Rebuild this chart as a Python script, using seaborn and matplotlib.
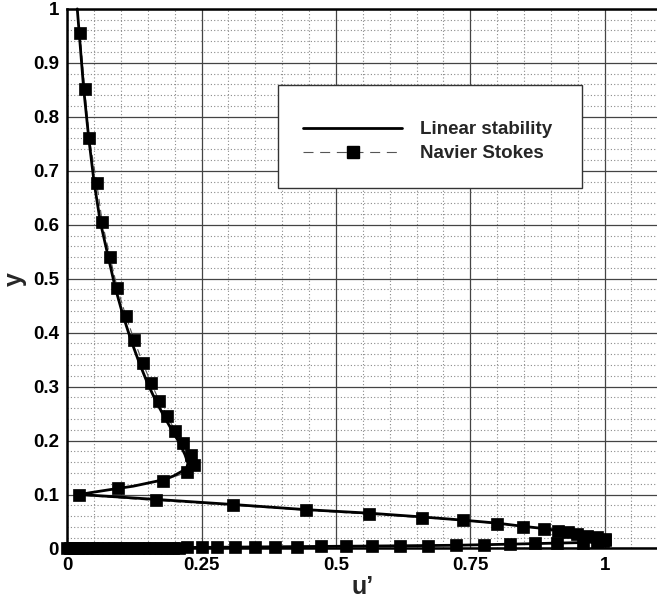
import numpy as np
import pandas as pd
import matplotlib
matplotlib.use("Agg")
import matplotlib.pyplot as plt
from matplotlib.ticker import MultipleLocator, FixedLocator
from matplotlib.patches import Rectangle
from matplotlib.lines import Line2D
import seaborn as sns

# ---- data ----
ls_u = [0.0186, 0.0223, 0.0305, 0.040, 0.050, 0.0615, 0.0763, 0.0894, 0.104, 0.1186,
        0.134, 0.149, 0.1645, 0.180, 0.1955, 0.2085, 0.219, 0.2245, 0.222, 0.2097,
        0.197, 0.1725, 0.123, 0.079, 0.042, 0.024,
        0.1645, 0.309, 0.444, 0.5615, 0.660, 0.737, 0.800, 0.849, 0.887, 0.930,
        0.970, 1.000, 0.995, 0.960, 0.911, 0.824, 0.7235, 0.619, 0.518, 0.427,
        0.349, 0.279, 0.222, 0.160, 0.100, 0.045, 0.0]
ls_y = [1.000, 0.954, 0.852, 0.760, 0.678, 0.605, 0.540, 0.483, 0.431, 0.386,
        0.344, 0.307, 0.274, 0.245, 0.218, 0.196, 0.174, 0.158, 0.148, 0.141,
        0.134, 0.126, 0.1155, 0.109, 0.1033, 0.100,
        0.091, 0.0815, 0.072, 0.0655, 0.0585, 0.0525, 0.047, 0.041, 0.037, 0.031,
        0.024, 0.016, 0.0125, 0.011, 0.0100, 0.0080, 0.0060, 0.0050, 0.0042, 0.0035,
        0.0029, 0.0023, 0.0019, 0.0013, 0.0009, 0.0005, 0.0]

ns_u = [0.0236, 0.0324, 0.041, 0.0547, 0.065, 0.0796, 0.093, 0.109, 0.1247, 0.1403,
        0.1558, 0.171, 0.186, 0.201, 0.216, 0.2297, 0.2358, 0.2222, 0.1787, 0.095,
        0.0223,
        0.1645, 0.309, 0.444, 0.5615, 0.6596, 0.737, 0.800, 0.8487, 0.887, 0.914,
        0.9325, 0.948, 0.9667, 0.985, 1.000, 1.000, 0.997, 0.985, 0.960,
        0.911, 0.870, 0.824, 0.7755, 0.7235, 0.671, 0.619, 0.568, 0.518, 0.472,
        0.427, 0.387, 0.349, 0.312, 0.279, 0.250, 0.222, 0.208, 0.197, 0.186,
        0.175, 0.164, 0.153, 0.142, 0.131, 0.120, 0.109, 0.098, 0.087, 0.076,
        0.066, 0.056, 0.046, 0.037, 0.028, 0.020, 0.012, 0.005, 0.0]
ns_y = [0.9546, 0.852, 0.760, 0.678, 0.605, 0.540, 0.483, 0.431, 0.386, 0.344,
        0.307, 0.274, 0.245, 0.218, 0.196, 0.174, 0.155, 0.141, 0.126, 0.112,
        0.099,
        0.089, 0.080, 0.071, 0.0635, 0.0572, 0.052, 0.046, 0.040, 0.037, 0.033,
        0.030, 0.027, 0.024, 0.021, 0.0185, 0.016, 0.0135, 0.012, 0.011,
        0.0100, 0.0093, 0.0080, 0.0067, 0.0060, 0.0055, 0.0050, 0.0046, 0.0042, 0.0038,
        0.0035, 0.0032, 0.0029, 0.0026, 0.0023, 0.0021, 0.0019, 0.0018, 0.0017, 0.0016,
        0.0015, 0.0014, 0.0013, 0.0012, 0.0011, 0.0010, 0.0009, 0.0008, 0.0007, 0.0006,
        0.0005, 0.0005, 0.0004, 0.0003, 0.0002, 0.0002, 0.0001, 0.0001, 0.0]

x_ticks = [0, 0.25, 0.5, 0.75, 1.0]
x_ticklabels = ["0", "0.25", "0.5", "0.75", "1"]
y_ticks = [0, 0.1, 0.2, 0.3, 0.4, 0.5, 0.6, 0.7, 0.8, 0.9, 1.0]
y_ticklabels = ["0", "0.1", "0.2", "0.3", "0.4", "0.5", "0.6", "0.7", "0.8", "0.9", "1"]
series_names = ["Linear stability", "Navier Stokes"]
x_label = "u\u2019"
y_label = "y"

# ---- styling ----
sns.set_theme(style="white")
plt.rcParams["font.family"] = ["Liberation Sans", "DejaVu Sans"]
plt.rcParams["font.weight"] = "bold"

fig = plt.figure(figsize=(6.57, 6.05), dpi=100)
ax = fig.add_axes([0.1024, 0.0934, 0.8996, 0.8919])

ls_df = pd.DataFrame({"u": ls_u, "y": ls_y})
ns_df = pd.DataFrame({"u": ns_u, "y": ns_y})

MS = 8.4
sns.lineplot(data=ns_df, x="u", y="y", sort=False, estimator=None, ax=ax,
             color="#555555", linewidth=0.8, linestyle=(0, (6.5, 3.5)),
             marker="s", markersize=MS, markerfacecolor="black",
             markeredgecolor="black", markeredgewidth=0.5,
             clip_on=False, zorder=4)
sns.lineplot(data=ls_df, x="u", y="y", sort=False, estimator=None, ax=ax,
             color="black", linewidth=2.0, clip_on=False, zorder=5)

ax.set_xlim(0, 1.1)
ax.set_ylim(0, 1)

ax.xaxis.set_major_locator(FixedLocator(x_ticks))
ax.set_xticklabels(x_ticklabels)
ax.yaxis.set_major_locator(FixedLocator(y_ticks))
ax.set_yticklabels(y_ticklabels)
ax.xaxis.set_minor_locator(MultipleLocator(0.05))
ax.yaxis.set_minor_locator(MultipleLocator(0.02))

ax.tick_params(which="major", direction="in", length=10, width=1.5,
               labelsize=13.5, pad=6, colors="black")
ax.tick_params(which="minor", direction="in", length=5, width=1.0, colors="black")
ax.tick_params(top=False, right=False, which="both")
for lab in ax.get_xticklabels() + ax.get_yticklabels():
    lab.set_fontweight("bold")

ax.grid(which="major", color="#444444", linewidth=0.9, linestyle="-")
ax.grid(which="minor", color="#8a8a8a", linewidth=0.8, linestyle=(0, (1, 2)))
ax.set_axisbelow(True)

for side in ["left", "top", "bottom"]:
    ax.spines[side].set_visible(True)
    ax.spines[side].set_color("black")
    ax.spines[side].set_linewidth(1.8)
ax.spines["right"].set_visible(False)

ax.set_xlabel(x_label, fontsize=18, fontweight="bold", labelpad=1)
ax.set_ylabel(y_label, fontsize=18, fontweight="bold", labelpad=4)

# legend frame
ax.add_patch(Rectangle((0.3565, 0.668), 0.5145, 0.191, transform=ax.transAxes,
                       facecolor="white", edgecolor="#333333", linewidth=1.0,
                       zorder=6))
handles = [Line2D([], [], color="black", linewidth=2.0),
           Line2D([], [], color="#555555", linewidth=0.8, linestyle=(0, (9, 6)),
                  marker="s", markersize=MS, markerfacecolor="black",
                  markeredgecolor="black")]
leg = ax.legend(handles, series_names, loc="center left",
                bbox_to_anchor=(0.3988, 0.754), frameon=False,
                prop={"weight": "bold", "size": 13.5},
                handlelength=5.3, handletextpad=0.95, labelspacing=0.38,
                borderpad=0, borderaxespad=0, numpoints=1)
leg.set_zorder(7)

fig.savefig("out.png", dpi=100)
